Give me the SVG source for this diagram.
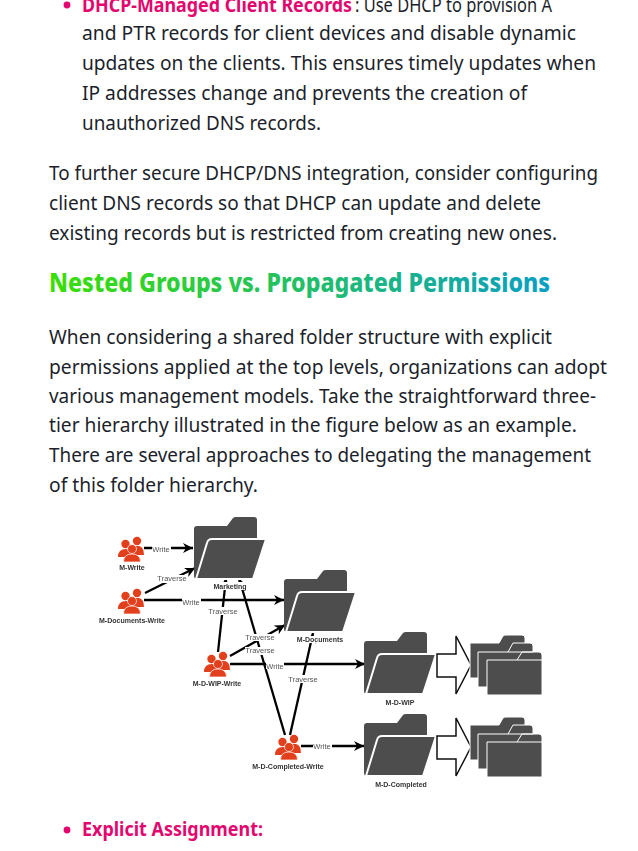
<svg xmlns="http://www.w3.org/2000/svg" width="638" height="851" viewBox="0 0 638 851">
<style>
text{font-family:"Noto Sans","Open Sans","Liberation Sans",sans-serif}
.b{font-size:20px;fill:#1c1f2b}
.m{font-size:20px;font-weight:700;fill:#e3066e}
.h{font-size:26px;font-weight:800}
.n{font-family:"Liberation Sans",Arial,sans-serif;font-size:7px;font-weight:700;fill:#333;text-anchor:middle}
.l{font-family:"Liberation Sans",Arial,sans-serif;font-size:7.5px;fill:#555;text-anchor:middle}
.c{stroke:#000;stroke-width:2.3;fill:none;marker-end:url(#a)}
.bg{fill:#fff}
.f{fill:#4d4d4d}
.p{fill:#e2401f}
</style>
<defs>
<filter id="soft" x="0" y="0" width="1" height="1"><feGaussianBlur stdDeviation="0.35"/></filter>
<linearGradient id="g" x1="49" x2="550" y1="0" y2="0" gradientUnits="userSpaceOnUse"><stop offset="0" stop-color="#3adf08"/><stop offset="1" stop-color="#0a9fc4"/></linearGradient>
<marker id="a" markerUnits="userSpaceOnUse" markerWidth="12" markerHeight="10" refX="10" refY="5" orient="auto"><path d="M0 0L10 5L0 10L3 5Z" fill="#000"/></marker>
<symbol id="folder" overflow="visible">
<path class="f" d="M0 58V12Q0 9 3 9H33L39 1Q40 0 42 0H60Q63 0 63 3V23H14L3 61Q0 63 0 58Z"/>
<path class="f" stroke="#fff" stroke-width="2" stroke-linejoin="round" d="M18 22H72L59 62H2L13 26Q14 22 18 22Z"/>
</symbol>
<symbol id="stack" overflow="visible">
<path class="f" stroke="#fff" stroke-width="1" d="M0 8H29L33 1Q34 0 36 0H52Q55 0 55 3V43H0Z"/>
<path class="f" stroke="#fff" stroke-width="1" d="M8 17H38L43 8H60Q63 8 63 11V52H8Z"/>
<path class="f" stroke="#fff" stroke-width="1" d="M17 25H47L52 17H69Q72 17 72 20V60H17Z"/>
<path fill="none" stroke="#fff" stroke-width="1" d="M38 17H63M47 25H72"/>
</symbol>
<symbol id="people" overflow="visible">
<circle class="p" cx="7.500" cy="7" r="4.200"/><circle class="p" cx="19" cy="4" r="4.200"/>
<path class="p" d="M0 20Q0 12 8 12Q14 12 15 20Z"/><path class="p" d="M13 9H21Q26 10 26 18H13Z"/>
<circle class="p" cx="14" cy="12" r="4.500" stroke="#fff" stroke-width="0.700"/>
<path class="p" stroke="#fff" stroke-width="0.700" d="M5.500 25Q5.500 17 14 17Q22.500 17 22.500 25Z"/>
</symbol>
<path id="blockarrow" fill="#fff" stroke="#111" stroke-width="1.500" d="M437 654H456V636L471 665L456 694V677H437Z"/>
</defs>
<rect width="638" height="851" fill="#fff"/>

<g id="page-text">
<circle cx="67" cy="5" r="3.400" fill="#e3066e"/>
<text x="82" y="12" class="m" textLength="270" lengthAdjust="spacingAndGlyphs">DHCP-Managed Client Records</text>
<text x="355" y="12" class="b" textLength="197" lengthAdjust="spacingAndGlyphs">: Use DHCP to provision A</text>
<text x="82" y="40" class="b" textLength="494" lengthAdjust="spacingAndGlyphs">and PTR records for client devices and disable dynamic</text>
<text x="82" y="70" class="b" textLength="514" lengthAdjust="spacingAndGlyphs">updates on the clients. This ensures timely updates when</text>
<text x="82" y="100" class="b" textLength="445" lengthAdjust="spacingAndGlyphs">IP addresses change and prevents the creation of</text>
<text x="82" y="130" class="b" textLength="239" lengthAdjust="spacingAndGlyphs">unauthorized DNS records.</text>
<text x="49" y="180" class="b" textLength="549" lengthAdjust="spacingAndGlyphs">To further secure DHCP/DNS integration, consider configuring</text>
<text x="49" y="210" class="b" textLength="492" lengthAdjust="spacingAndGlyphs">client DNS records so that DHCP can update and delete</text>
<text x="49" y="240" class="b" textLength="508" lengthAdjust="spacingAndGlyphs">existing records but is restricted from creating new ones.</text>
<text x="49" y="292" class="h" fill="url(#g)" textLength="501" lengthAdjust="spacingAndGlyphs">Nested Groups vs. Propagated Permissions</text>
<text x="49" y="344" class="b" textLength="503" lengthAdjust="spacingAndGlyphs">When considering a shared folder structure with explicit</text>
<text x="49" y="374" class="b" textLength="558" lengthAdjust="spacingAndGlyphs">permissions applied at the top levels, organizations can adopt</text>
<text x="49" y="403" class="b" textLength="547" lengthAdjust="spacingAndGlyphs">various management models. Take the straightforward three-</text>
<text x="49" y="432" class="b" textLength="528" lengthAdjust="spacingAndGlyphs">tier hierarchy illustrated in the figure below as an example.</text>
<text x="49" y="462" class="b" textLength="542" lengthAdjust="spacingAndGlyphs">There are several approaches to delegating the management</text>
<text x="49" y="492" class="b" textLength="209" lengthAdjust="spacingAndGlyphs">of this folder hierarchy.</text>
<circle cx="67" cy="830" r="3.400" fill="#e3066e"/>
<text x="82" y="836" class="m" textLength="181" lengthAdjust="spacingAndGlyphs">Explicit Assignment:</text>
</g>

<g id="figure" filter="url(#soft)">
<g id="connectors">
<path class="c" d="M144 548H193"/>
<path class="c" d="M145 593L195 568"/>
<path class="c" d="M144 600H284"/>
<path class="c" d="M218 652L226 578"/>
<path class="c" d="M285 735L239 578"/>
<path class="c" d="M230 656L285 625"/>
<path class="c" d="M290 735L313 633"/>
<path class="c" d="M230 664H365"/>
<path class="c" d="M301 746H364"/>
<g id="connector-labels">
<rect class="bg" x="152" y="545" width="19" height="8"/><text class="l" x="161" y="552">Write</text>
<rect class="bg" x="156" y="575" width="32" height="8"/><text class="l" x="172" y="581">Traverse</text>
<rect class="bg" x="182" y="597" width="19" height="8"/><text class="l" x="191" y="605">Write</text>
<rect class="bg" x="208" y="607" width="31" height="8"/><text class="l" x="223" y="614">Traverse</text>
<rect class="bg" x="245" y="634" width="31" height="7"/><text class="l" x="260" y="640">Traverse</text>
<rect class="bg" x="245" y="647" width="31" height="8"/><text class="l" x="260" y="653">Traverse</text>
<rect class="bg" x="266" y="662" width="18" height="7"/><text class="l" x="275" y="669">Write</text>
<rect class="bg" x="288" y="675" width="31" height="8"/><text class="l" x="303" y="682">Traverse</text>
<rect class="bg" x="313" y="743" width="19" height="7"/><text class="l" x="322" y="749">Write</text>
</g>
</g>

<g id="m-write"><use href="#people" x="118" y="537"/><text class="n" x="132" y="570">M-Write</text></g>
<g id="m-documents-write"><use href="#people" x="118" y="589"/><text class="n" x="132" y="623">M-Documents-Write</text></g>
<g id="m-d-wip-write"><use href="#people" x="204" y="652"/><text class="n" x="217" y="686">M-D-WIP-Write</text></g>
<g id="m-d-completed-write"><use href="#people" x="275" y="735"/><text class="n" x="288" y="769">M-D-Completed-Write</text></g>
<g id="marketing"><use href="#folder" x="194" y="517"/><rect class="bg" x="212" y="582" width="36" height="8"/><text class="n" x="230" y="589">Marketing</text></g>
<g id="m-documents"><use href="#folder" x="284" y="570"/><rect class="bg" x="295" y="636" width="50" height="7"/><text class="n" x="320" y="642">M-Documents</text></g>
<g id="m-d-wip"><use href="#folder" x="364" y="632"/><text class="n" x="400" y="705">M-D-WIP</text></g>
<g id="m-d-completed"><use href="#folder" x="364" y="714"/><text class="n" x="401" y="787">M-D-Completed</text></g>
<g id="wip-expand"><use href="#blockarrow"/><use href="#stack" x="470" y="635"/></g>
<g id="completed-expand"><use href="#blockarrow" y="82"/><use href="#stack" x="470" y="717"/></g>
</g>
</svg>
